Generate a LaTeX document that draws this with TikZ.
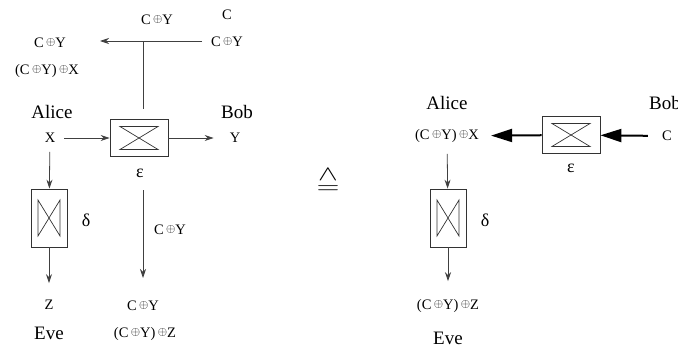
\documentclass[tikz,border=0pt]{standalone}
\usepackage{fontspec}
\setmainfont{Liberation Serif}
\usetikzlibrary{positioning,arrows.meta}
\newcommand{\xo}{\,\raisebox{.3ex}{\fontsize{12}{12}\selectfont$\oplus$}}

\begin{document}
\begin{tikzpicture}[x=1pt, y=-1pt,
  lbl/.style={font=\fontsize{14.5}{16}\selectfont, inner sep=2pt},
  who/.style={font=\fontsize{19}{21}\selectfont, inner sep=2pt},
  greek/.style={font=\fontsize{18}{20}\selectfont, inner sep=2pt},
  epsbox/.style={draw=black!80, line width=0.8pt, minimum width=58pt, minimum height=37pt, inner sep=0pt,
    path picture={\draw[black!80, line width=0.7pt]
      ([xshift=10pt,yshift=-7pt]path picture bounding box.north west) -- ([xshift=-10pt,yshift=-7pt]path picture bounding box.north east)
      -- ([xshift=10pt,yshift=7pt]path picture bounding box.south west) -- ([xshift=-10pt,yshift=7pt]path picture bounding box.south east) -- cycle;}},
  deltabox/.style={draw=black!80, line width=0.8pt, minimum width=36pt, minimum height=58pt, inner sep=0pt,
    path picture={\draw[black!80, line width=0.7pt]
      ([xshift=7pt,yshift=-11pt]path picture bounding box.north west) -- ([xshift=7pt,yshift=11pt]path picture bounding box.south west)
      -- ([xshift=-7pt,yshift=-11pt]path picture bounding box.north east) -- ([xshift=-7pt,yshift=11pt]path picture bounding box.south east) -- cycle;}},
  line/.style={draw=black!75, line width=0.8pt},
  arrow/.style={line, -{Stealth[length=9pt,width=6pt,inset=3pt]}},
  fatarrow/.style={draw=black, line width=2pt, -{Triangle[length=21pt,width=13pt]}}
]
  \useasboundingbox (0,0) rectangle (678,348);

  % left: channel with eavesdropper
  \node[lbl] (cytop) at (157,20) {C\xo Y};
  \node[lbl] (c) at (227,15) {C};
  \node[lbl] (cyb) at (227,42) {C\xo Y};
  \node[lbl] (cya) at (50,43) {C\xo Y};
  \node[lbl] (cyx) at (47,71) {(C\xo Y)\xo X};
  \node[who] (alice) at (52,112) {Alice};
  \node[lbl] (x) at (50,138) {X};
  \node[who] (bob) at (237,112) {Bob};
  \node[lbl] (y) at (235,138) {Y};
  \node[epsbox] (eps) at (139,138) {};
  \node[greek] (epslab) at (140,173) {ε};
  \node[deltabox] (delta) at (49,218) {};
  \node[greek] (deltalab) at (86,220) {δ};
  \node[lbl] (z) at (49,305) {Z};
  \node[who] (eve) at (49,333) {Eve};
  \node[lbl] (cyv) at (170,230) {C\xo Y};
  \node[lbl] (cye) at (143,306) {C\xo Y};
  \node[lbl] (cyz) at (145,334) {(C\xo Y)\xo Z};

  \coordinate (hin) at (202,41);
  \coordinate (hout) at (100,41);
  \coordinate (tee) at (143,41);
  \coordinate (dn1) at (143,190);
  \coordinate (dn2) at (143,278);

  \draw[arrow] (hin) -- (hout);
  \draw[line] (tee) -- ([yshift=10pt]tee |- eps.north);
  \draw[arrow, shorten <=7pt] (x) -- (eps);
  \draw[arrow, shorten >=14pt] (eps) -- (y);
  \draw[arrow, shorten <=7pt] (x) -- (delta);
  \draw[arrow, shorten >=15pt] (delta) -- (z);
  \draw[arrow] (dn1) -- (dn2);

  \node[inner sep=0pt] (equiv) at (328,180) {\resizebox{23pt}{26pt}{$\stackrel{\textstyle\wedge}{=}$}};

  % right: equivalent channel
  \node[who] (alice2) at (447,103) {Alice};
  \node[lbl] (rx) at (447,136) {(C\xo Y)\xo X};
  \node[epsbox] (eps2) at (571,135) {};
  \node[greek] (epslab2) at (571,168) {ε};
  \node[who] (bob2) at (665,103) {Bob};
  \node[lbl] (c2) at (667,136) {C};
  \node[deltabox] (delta2) at (448,218) {};
  \node[greek] (deltalab2) at (485,220) {δ};
  \node[lbl] (rz) at (448,306) {(C\xo Y)\xo Z};
  \node[who] (eve2) at (448,338) {Eve};

  \draw[fatarrow, shorten <=12pt] (c2) -- (eps2);
  \draw[fatarrow, shorten >=10pt] (eps2) -- (rx);
  \draw[arrow, shorten <=9pt] (rx) -- (delta2);
  \draw[arrow, shorten >=16pt] (delta2) -- (rz);
\end{tikzpicture}
\end{document}
